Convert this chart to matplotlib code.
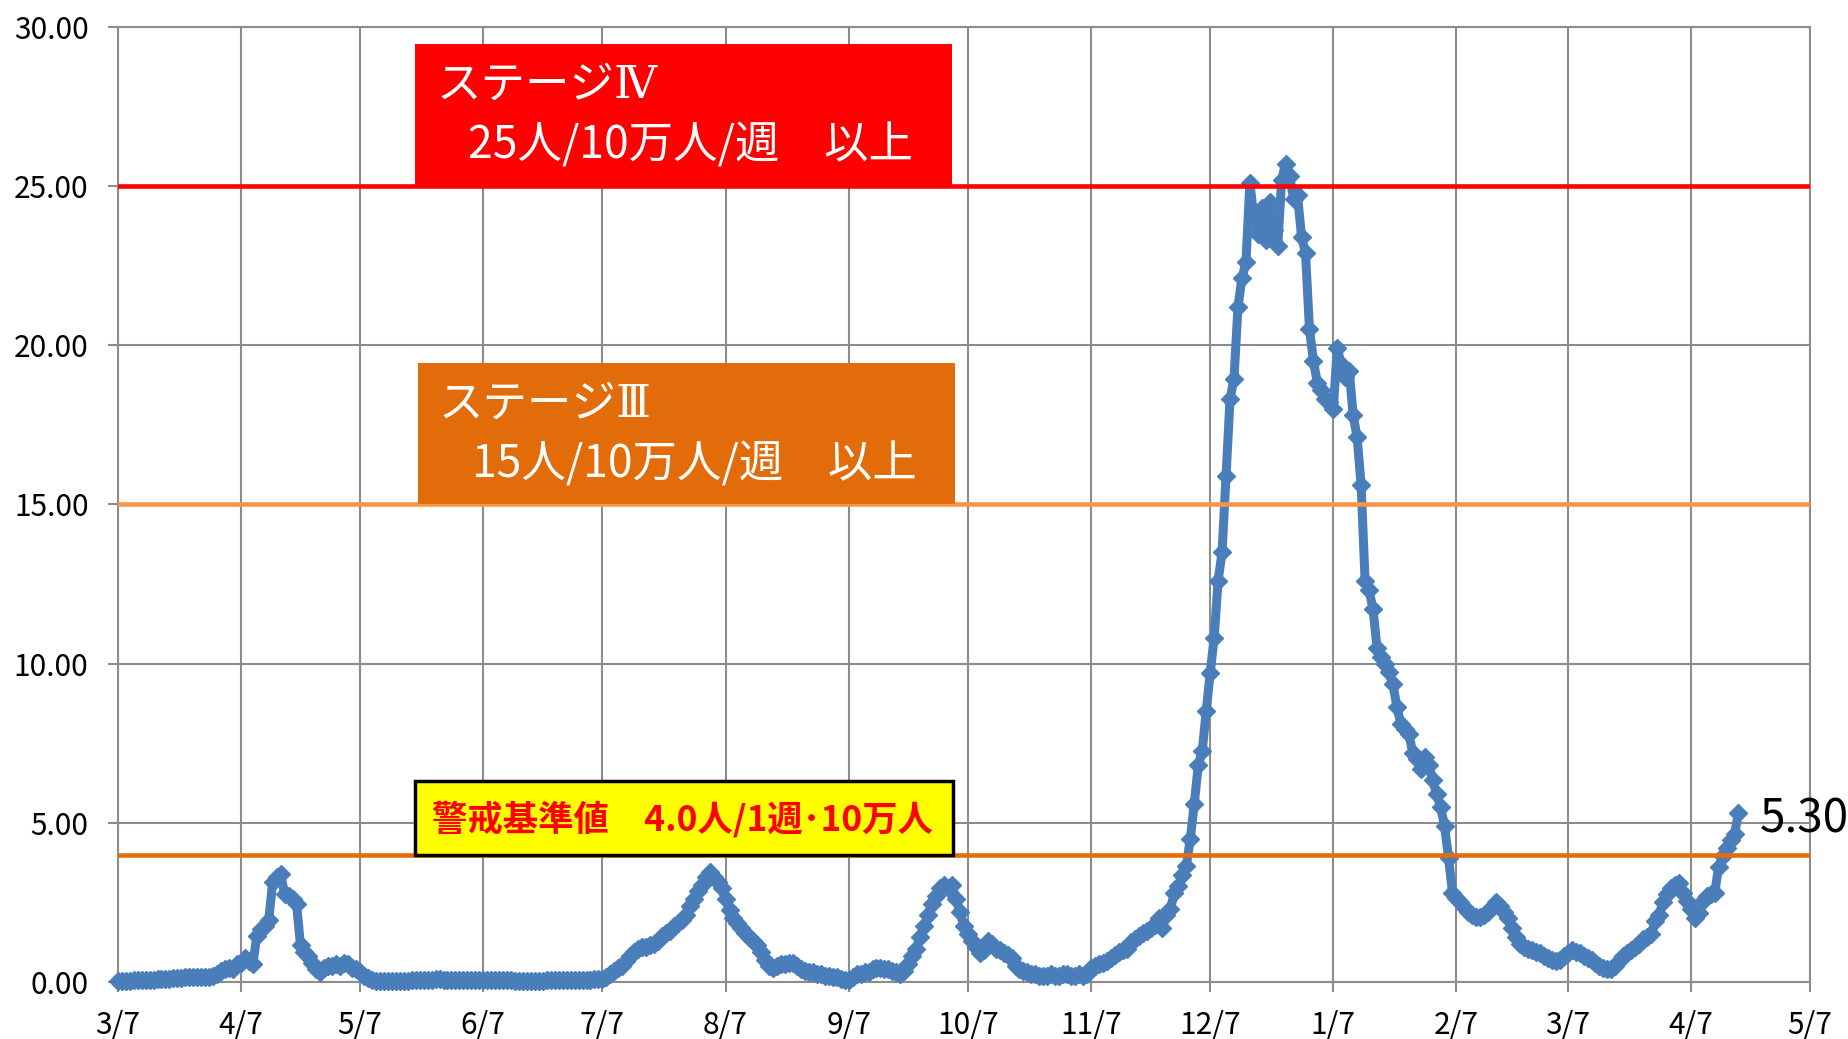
import matplotlib
matplotlib.use('Agg')
import matplotlib.pyplot as plt
from matplotlib.patches import Rectangle
import pandas as pd

plt.rcParams['font.family'] = ['Noto Sans CJK JP', 'DejaVu Sans']

# 直近1週間の新規感染者数（人口10万人あたり）、2020/3/7から日ごと
d2003 = [0.03, 0.03, 0.03, 0.03, 0.05, 0.07, 0.07, 0.07, 0.07, 0.07, 0.10, 0.10, 0.10, 0.10, 0.12, 0.12,
         0.12, 0.15, 0.15, 0.15, 0.15, 0.17, 0.17, 0.17, 0.20, 0.25, 0.35, 0.40, 0.45, 0.40, 0.55]
d2004 = [0.60, 0.75, 0.65, 0.55, 1.45, 1.65, 1.75, 1.95, 3.15, 3.30, 3.40, 2.75, 2.70, 2.60, 2.45, 1.15,
         0.95, 0.80, 0.60, 0.40, 0.30, 0.45, 0.50, 0.50, 0.55, 0.50, 0.60, 0.55, 0.45, 0.40]
d2005 = [0.30, 0.20, 0.12, 0.05, 0.02, 0.02, 0.02, 0.02, 0.02, 0.03, 0.03, 0.03, 0.03, 0.05, 0.05, 0.05,
         0.05, 0.07, 0.07, 0.10, 0.10, 0.07, 0.07, 0.05, 0.05, 0.05, 0.05, 0.05, 0.07, 0.07, 0.07]
d2006 = [0.07, 0.07, 0.05, 0.05, 0.05, 0.05, 0.05, 0.05, 0.03, 0.03, 0.03, 0.03, 0.03, 0.03, 0.03, 0.03,
         0.05, 0.05, 0.05, 0.05, 0.05, 0.05, 0.07, 0.07, 0.07, 0.07, 0.07, 0.07, 0.10, 0.10]
d2007 = [0.10, 0.15, 0.25, 0.35, 0.45, 0.50, 0.65, 0.80, 0.95, 1.05, 1.10, 1.10, 1.15, 1.20, 1.30, 1.45,
         1.55, 1.60, 1.75, 1.85, 1.95, 2.10, 2.40, 2.60, 2.85, 3.05, 3.30, 3.45, 3.30, 3.15, 2.95]
d2008 = [2.60, 2.25, 2.00, 1.85, 1.70, 1.55, 1.40, 1.30, 1.15, 0.95, 0.70, 0.50, 0.45, 0.50, 0.55, 0.55,
         0.60, 0.60, 0.50, 0.40, 0.35, 0.30, 0.30, 0.25, 0.25, 0.20, 0.20, 0.15, 0.15, 0.10, 0.05]
d2009 = [0.05, 0.15, 0.25, 0.25, 0.30, 0.30, 0.40, 0.45, 0.45, 0.40, 0.40, 0.35, 0.30, 0.25, 0.35, 0.55,
         0.80, 1.05, 1.40, 1.75, 2.10, 2.45, 2.70, 2.95, 3.05, 2.95, 3.05, 2.60, 2.20, 1.75]
d2010 = [1.50, 1.30, 1.10, 0.90, 1.00, 1.30, 1.20, 1.05, 1.00, 0.90, 0.85, 0.75, 0.50, 0.40, 0.35, 0.30,
         0.25, 0.25, 0.20, 0.20, 0.20, 0.25, 0.20, 0.20, 0.25, 0.25, 0.20, 0.20, 0.25, 0.20, 0.25]
d2011 = [0.45, 0.50, 0.55, 0.60, 0.65, 0.75, 0.85, 0.95, 1.00, 1.05, 1.25, 1.35, 1.45, 1.55, 1.60, 1.70,
         1.80, 2.00, 1.70, 2.10, 2.30, 2.80, 3.00, 3.35, 3.65, 4.50, 5.60, 6.80, 7.25, 8.50]
d2012 = [9.70, 10.80, 12.60, 13.50, 15.90, 18.30, 18.95, 21.20, 22.10, 22.60, 25.10, 24.00, 23.50, 24.30,
         23.30, 24.50, 23.60, 23.10, 25.20, 25.70, 25.30, 24.60, 24.70, 23.40, 22.90, 20.50, 19.50, 18.80,
         18.60, 18.30, 18.20]
d2101 = [18.00, 19.90, 19.40, 19.00, 19.20, 17.80, 17.10, 15.60, 12.60, 12.30, 11.70, 10.50, 10.20, 10.00,
         9.75, 9.35, 8.65, 8.10, 7.95, 7.80, 7.20, 7.00, 6.70, 7.05, 6.80, 6.35, 5.90, 5.50, 4.90, 3.90, 2.80]
d2102 = [2.65, 2.50, 2.35, 2.20, 2.10, 2.05, 2.05, 2.10, 2.20, 2.35, 2.50, 2.40, 2.20, 2.00, 1.70, 1.40,
         1.20, 1.10, 1.05, 1.00, 0.95, 0.90, 0.80, 0.75, 0.70, 0.65, 0.70, 0.80]
d2103 = [0.90, 1.00, 0.95, 0.90, 0.80, 0.75, 0.70, 0.60, 0.50, 0.45, 0.40, 0.42, 0.50, 0.65, 0.80, 0.90,
         1.00, 1.10, 1.20, 1.35, 1.40, 1.50, 1.90, 2.10, 2.50, 2.75, 2.95, 3.05, 3.10, 2.80, 2.55]
d2104 = [2.30, 2.00, 2.15, 2.55, 2.70, 2.75, 2.80, 3.60, 3.95, 4.20, 4.45, 4.65, 5.30]

tick_labels = ['3/7', '4/7', '5/7', '6/7', '7/7', '8/7', '9/7', '10/7', '11/7', '12/7',
               '1/7', '2/7', '3/7', '4/7', '5/7']

stage4 = 25.0
stage3 = 15.0
alert = 4.0

values = (d2003 + d2004 + d2005 + d2006 + d2007 + d2008 + d2009 + d2010 + d2011 + d2012
          + d2101 + d2102 + d2103 + d2104)
dates = pd.date_range('2020-03-07', periods=len(values), freq='D')
tick_dates = pd.date_range('2020-03-01', '2021-05-01', freq='MS') + pd.Timedelta(days=6)

grid_c = '#8c8c8c'
blue = '#4a7ebb'
# ローマ数字だけセリフ体で出す
stage_font = ['DejaVu Serif', 'Noto Sans CJK JP']

fig = plt.figure(figsize=(18.49, 10.39), dpi=100)
ax = fig.add_axes([0.0637, 0.0549, 0.9152, 0.9194])

ax.plot(dates, values, color=blue, lw=6.5, marker='D', ms=9.5, mec=blue, mfc=blue,
        zorder=3, clip_on=False)

ax.axhline(stage4, color='#ff0000', lw=3.3, zorder=4)
ax.axhline(stage3, color='#f79646', lw=3.3, zorder=4)
ax.axhline(alert, color='#e46c0a', lw=3.3, zorder=4)

ax.set_xlim(tick_dates[0], tick_dates[-1])
ax.set_ylim(0, 30)
ax.set_xticks(tick_dates)
ax.set_xticklabels(tick_labels)
ax.set_yticks(range(0, 31, 5))
ax.set_yticklabels([f'{v:.2f}' for v in range(0, 31, 5)])

ax.grid(True, color=grid_c, lw=1.5)
ax.set_axisbelow(True)
for s in ax.spines.values():
    s.set_color(grid_c)
    s.set_linewidth(1.5)
ax.tick_params(axis='both', length=7, width=1.5, color=grid_c, labelsize=21.5)
ax.tick_params(axis='y', pad=14)
ax.tick_params(axis='x', pad=13)

# ステージ表示の箱
ax.add_patch(Rectangle((0.1757, stage4 / 30), 0.4930 - 0.1757, 29.46 / 30 - stage4 / 30,
                       transform=ax.transAxes, facecolor='#ff0000', edgecolor='none', zorder=5))
ax.text(0.1884, 0.939, 'ステージⅣ', transform=ax.transAxes, color='white', fontsize=32,
        family=stage_font, ha='left', va='center', zorder=6)
ax.text(0.2070, 0.876, '25人/10万人/週　以上', transform=ax.transAxes, color='white', fontsize=32,
        ha='left', va='center', zorder=6)

ax.add_patch(Rectangle((0.1776, stage3 / 30), 0.4948 - 0.1776, 19.45 / 30 - stage3 / 30,
                       transform=ax.transAxes, facecolor='#e36c0a', edgecolor='none', zorder=5))
ax.text(0.1893, 0.605, 'ステージⅢ', transform=ax.transAxes, color='white', fontsize=32,
        family=stage_font, ha='left', va='center', zorder=6)
ax.text(0.2092, 0.542, '15人/10万人/週　以上', transform=ax.transAxes, color='white', fontsize=32,
        ha='left', va='center', zorder=6)

ax.add_patch(Rectangle((0.1757, alert / 30), 0.4934 - 0.1757, 6.32 / 30 - alert / 30,
                       transform=ax.transAxes, facecolor='#ffff00', edgecolor='black', lw=2.5, zorder=5))
ax.text(0.1855, 0.1706, '警戒基準値　4.0人/1週･10万人', transform=ax.transAxes, color='#ff0000',
        fontsize=25.5, fontweight='bold', ha='left', va='center', zorder=6)

# 最新値
ax.annotate(f'{values[-1]:.2f}', (dates[-1], values[-1]), xytext=(15, -4), textcoords='offset points',
            fontsize=33, ha='left', va='center', color='black', annotation_clip=False)

fig.savefig('out.png', dpi=100)
